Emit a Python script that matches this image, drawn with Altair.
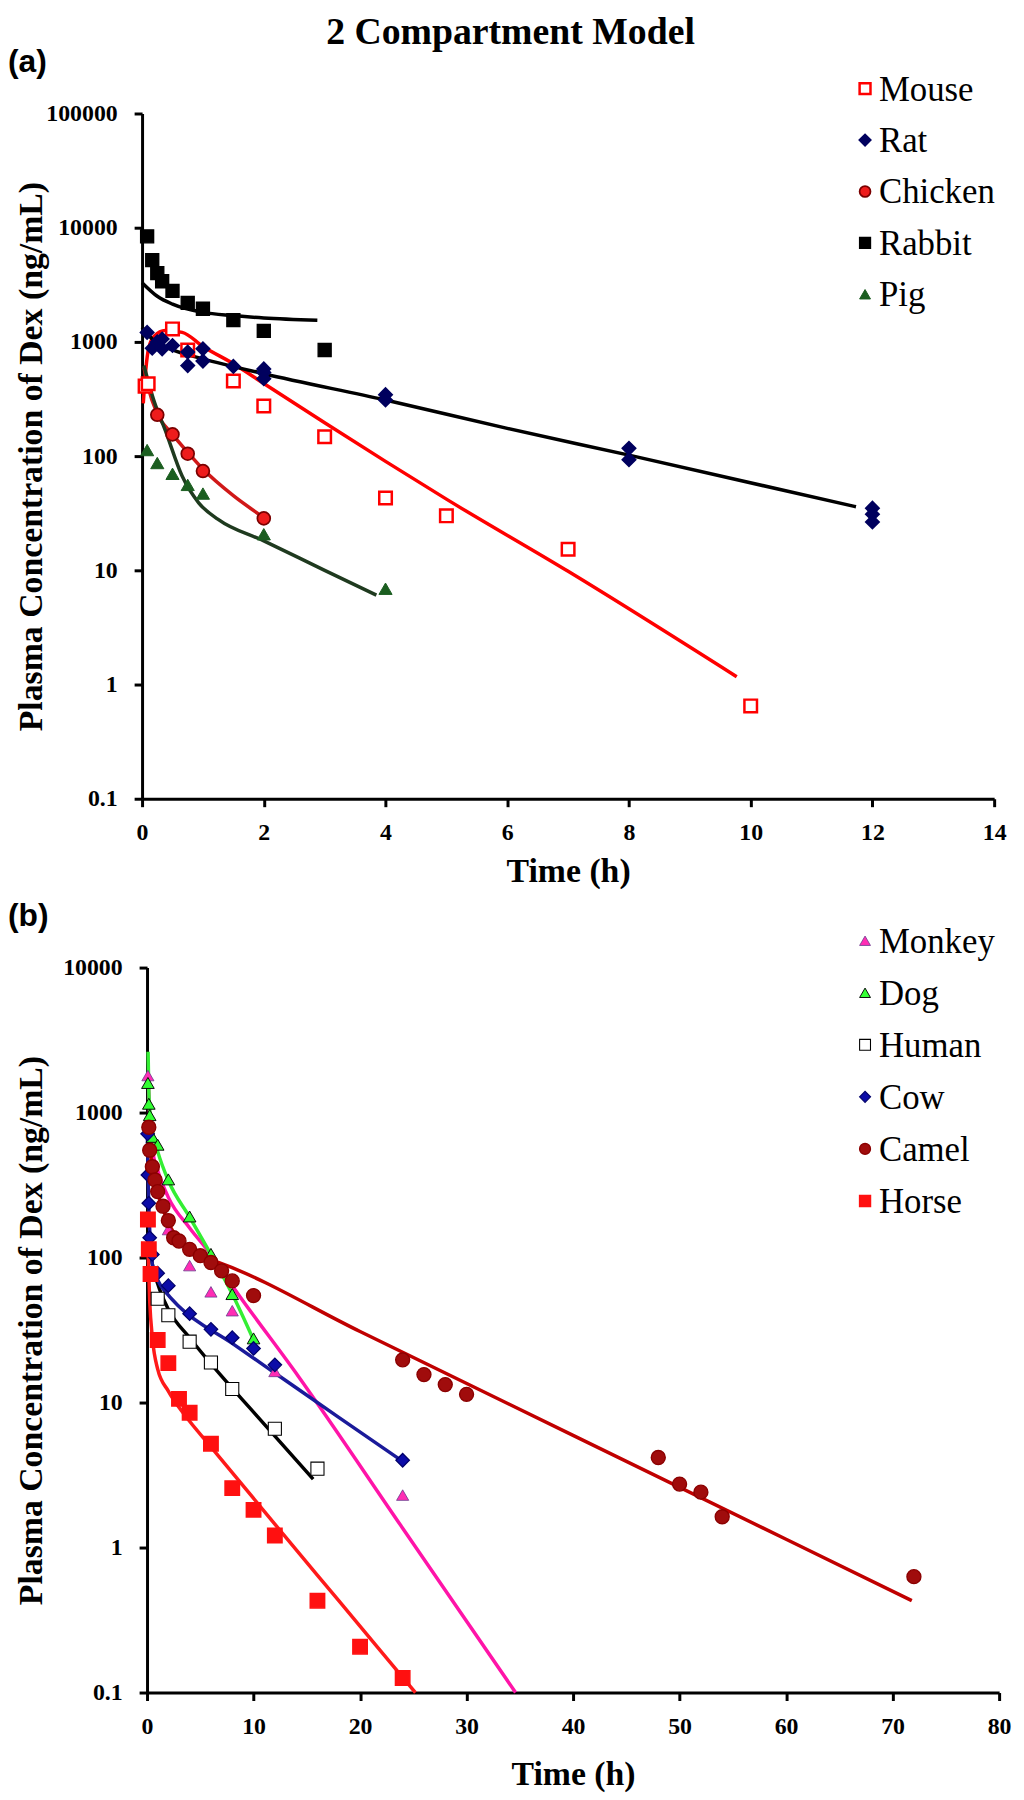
import altair as alt
import pandas as pd

# ---------------- Panel (a): observed data ----------------
MOUSE_T = [0.05, 0.1, 0.5, 0.75, 1.5, 2, 3, 4, 5, 7, 10]
MOUSE_C = [410, 430, 1300, 850, 455, 275, 148, 43, 30, 15.3, 0.65]
RAT_T = [0.083, 0.167, 0.25, 0.33, 0.33, 0.5, 0.75, 0.75, 1, 1, 1.5, 2, 2, 2, 4, 4, 8, 8, 12, 12, 12]
RAT_C = [1210, 880, 1000, 1060, 870, 930, 815, 620, 870, 680, 610, 580, 540, 476, 345, 310, 117, 93, 35, 31, 26.5]
CHICKEN_T = [0.25, 0.5, 0.75, 1, 2]
CHICKEN_C = [230, 155, 105, 74, 28.5]
RABBIT_T = [0.083, 0.167, 0.25, 0.33, 0.5, 0.75, 1, 1.5, 2, 3]
RABBIT_C = [8400, 5200, 4000, 3400, 2800, 2200, 1950, 1550, 1250, 850]
PIG_T = [0.083, 0.25, 0.5, 0.75, 1, 2, 4]
PIG_C = [113, 87, 70, 56, 47, 20.7, 6.9]

# ---------------- Panel (a): fitted curves ----------------
MOUSE_FIT_T = [0.02, 0.06, 0.11, 0.2, 0.38, 0.66, 1, 1.5, 2, 3, 4, 5, 7, 9.77]
MOUSE_FIT_C = [290, 560, 890, 1120, 1256, 1213, 912, 644, 432, 196, 90, 42, 9.8, 1.17]
RAT_FIT_T = [0, 0.1, 0.25, 0.5, 1, 2, 4, 6, 8, 11.73]
RAT_FIT_C = [1343, 1150, 980, 850, 711, 527, 310, 175, 102, 36]
CHICKEN_FIT_T = [0.03, 0.1, 0.25, 0.5, 0.75, 1, 1.5, 2]
CHICKEN_FIT_C = [600, 400, 235, 155, 108, 77, 45, 29]
RABBIT_FIT_T = [0, 0.25, 0.5, 1, 1.5, 2, 2.88]
RABBIT_FIT_C = [3300, 2510, 2140, 1815, 1700, 1620, 1550]
PIG_FIT_T = [0.03, 0.2, 0.38, 0.66, 0.93, 1.25, 2, 3, 3.85]
PIG_FIT_C = [622, 300, 169, 66.5, 39, 27.9, 18.1, 10, 6.07]

# ---------------- Panel (b): observed data ----------------
MONKEY_T = [0.083, 2, 4, 6, 8, 12, 24]
MONKEY_C = [1800, 156, 88, 58, 43, 16.4, 2.3]
DOG_T = [0.083, 0.167, 0.25, 0.5, 1, 2, 4, 6, 8, 10]
DOG_C = [1600, 1150, 960, 680, 600, 346, 192, 106, 56, 27.7]
HUMAN_T = [1, 2, 4, 6, 8, 12, 16]
HUMAN_C = [52, 40, 26.3, 18.9, 12.4, 6.6, 3.5]
COW_T = [0.05, 0.083, 0.167, 0.25, 0.5, 1, 2, 4, 6, 8, 10, 12, 24]
COW_C = [713, 371, 237, 137, 105, 78, 64, 41, 32, 28, 23.6, 18.2, 4.0]
CAMEL_T = [0.167, 0.25, 0.5, 0.75, 1, 1.5, 2, 2.5, 3, 4, 5, 6, 7, 8, 10,
           24, 26, 28, 30, 48, 50, 52, 54, 72]
CAMEL_C = [792, 550, 423, 343, 285, 226, 180, 137, 130, 114, 103, 92.5, 81, 69, 54.7,
           19.7, 15.6, 13.3, 11.4, 4.18, 2.74, 2.41, 1.63, 0.63]
HORSE_T = [0.083, 0.167, 0.33, 1, 2, 3, 4, 6, 8, 10, 12, 16, 20, 24]
HORSE_C = [183, 114, 77, 27, 18.7, 10.6, 8.5, 5.2, 2.57, 1.82, 1.21, 0.43, 0.207, 0.126]

# ---------------- Panel (b): fitted curves ----------------
MONKEY_FIT_T = [0.1, 0.25, 0.5, 1, 2, 4, 6, 8, 14.2, 24, 34.6]
MONKEY_FIT_C = [1880, 900, 560, 400, 260, 160, 105, 64, 15.2, 1.36, 0.1]
DOG_FIT_T = [0.1, 0.15, 0.25, 0.5, 1, 2, 4, 6, 8, 10]
DOG_FIT_C = [2630, 1600, 1050, 750, 540, 340, 190, 105, 56, 27]
HUMAN_FIT_T = [0.05, 0.5, 1, 2, 4, 7, 10, 15.6]
HUMAN_FIT_C = [170, 90, 66, 44, 28, 15.2, 8.6, 2.96]
COW_FIT_T = [0.03, 0.15, 0.5, 1, 2, 3, 8, 12, 18, 24]
COW_FIT_C = [700, 250, 90, 70, 55, 46, 25.6, 16, 7.9, 3.93]
CAMEL_FIT_T = [0.1, 0.25, 0.5, 1, 2, 3, 4, 5, 6.7, 20, 40, 60, 71.8]
CAMEL_FIT_C = [850, 600, 420, 280, 175, 130, 112, 102, 92.5, 30.9, 5.94, 1.14, 0.43]
HORSE_FIT_T = [0.05, 0.25, 0.5, 1, 2, 3.6, 6, 12, 18, 25.2]
HORSE_FIT_C = [140, 50, 28, 17, 12, 8.1, 4.95, 1.45, 0.43, 0.1]

# ---------------- categories, symbols, colours ----------------
TOP_SPECIES = ["Mouse", "Rat", "Chicken", "Rabbit", "Pig"]
TOP_SHAPES = ["square", "diamond", "circle", "square", "triangle-up"]
TOP_FILLS = ["#FFFFFF", "#00005E", "#EE1C1C", "#000000", "#1B5E20"]
TOP_STROKES = ["#FF0000", "#00005E", "#7A0000", "#000000", "#1B5E20"]
TOP_SW = [2.5, 1, 1.5, 1, 1]
TOP_SIZES = [160, 175, 170, 190, 150]
TOP_LINES = ["#FF0000", "#000000", "#D01818", "#000000", "#1F3A1F"]

BOT_SPECIES = ["Monkey", "Dog", "Human", "Cow", "Camel", "Horse"]
BOT_SHAPES = ["triangle-up", "triangle-up", "square", "diamond", "circle", "square"]
BOT_FILLS = ["#FF2DB4", "#33FF33", "#FFFFFF", "#0C0CA8", "#A00C0C", "#FF1010"]
BOT_STROKES = ["#6A3D8F", "#000000", "#000000", "#00006A", "#8B0000", "#FF1010"]
BOT_SW = [0.8, 1.5, 2.5, 1, 1, 1]
BOT_SIZES = [150, 210, 170, 130, 190, 190]
BOT_LINES = ["#FF14A8", "#33EE33", "#000000", "#1A1A9A", "#C00000", "#FF1A1A"]

TOP_X_TICKS = [0, 2, 4, 6, 8, 10, 12, 14]
BOT_X_TICKS = [0, 10, 20, 30, 40, 50, 60, 70, 80]
TOP_Y_TICKS = [0.1, 1, 10, 100, 1000, 10000, 100000]
BOT_Y_TICKS = [0.1, 1, 10, 100, 1000, 10000]

MAIN_TITLE = "2 Compartment Model"
PANEL_LABELS = ["(a)", "(b)"]
X_TITLE = "Time (h)"
Y_TITLE = "Plasma Concentration of Dex (ng/mL)"

SERIF = "Liberation Serif, Times New Roman, serif"


def frame(names, ts, cs, key):
    rows = []
    for n, tt, cc in zip(names, ts, cs):
        for a, b in zip(tt, cc):
            rows.append({key: n, "t": a, "c": b})
    return pd.DataFrame(rows)


top_pts = frame(TOP_SPECIES, [MOUSE_T, RAT_T, CHICKEN_T, RABBIT_T, PIG_T],
                [MOUSE_C, RAT_C, CHICKEN_C, RABBIT_C, PIG_C], "species")
top_fit = frame(TOP_SPECIES, [MOUSE_FIT_T, RAT_FIT_T, CHICKEN_FIT_T, RABBIT_FIT_T, PIG_FIT_T],
                [MOUSE_FIT_C, RAT_FIT_C, CHICKEN_FIT_C, RABBIT_FIT_C, PIG_FIT_C], "curve")
bot_pts = frame(BOT_SPECIES, [MONKEY_T, DOG_T, HUMAN_T, COW_T, CAMEL_T, HORSE_T],
                [MONKEY_C, DOG_C, HUMAN_C, COW_C, CAMEL_C, HORSE_C], "species")
bot_fit = frame(BOT_SPECIES, [MONKEY_FIT_T, DOG_FIT_T, HUMAN_FIT_T, COW_FIT_T, CAMEL_FIT_T, HORSE_FIT_T],
                [MONKEY_FIT_C, DOG_FIT_C, HUMAN_FIT_C, COW_FIT_C, CAMEL_FIT_C, HORSE_FIT_C], "curve")

LABEL_EXPR = "datum.value < 1 ? '0.1' : format(datum.value, 'd')"


def panel(pts, fit, species, shapes, fills, strokes, sws, sizes, lines, xmax, xticks, ymax, yticks,
          width, height, title_x, x_title_pad, leg_x, leg_range, label_text, label_x, with_title):
    x_enc = alt.X("t:Q", scale=alt.Scale(domain=[0, xmax], nice=False),
                  axis=alt.Axis(values=xticks, format="d", title=X_TITLE,
                                titlePadding=x_title_pad, labelFlush=False))
    y_scale = alt.Scale(type="log", domain=[0.1, ymax], nice=False)
    y_axis = alt.Y("c:Q", scale=y_scale,
                   axis=alt.Axis(values=yticks, labelExpr=LABEL_EXPR, title=Y_TITLE, titleX=title_x))
    y_noaxis = alt.Y("c:Q", scale=y_scale, axis=None)

    shape_enc = alt.Shape("species:N", scale=alt.Scale(domain=species, range=shapes), legend=None)
    fill_enc = alt.Fill("species:N", scale=alt.Scale(domain=species, range=fills), legend=None)
    stroke_enc = alt.Stroke("species:N", scale=alt.Scale(domain=species, range=strokes), legend=None)
    sw_enc = alt.StrokeWidth("species:N", scale=alt.Scale(domain=species, range=sws), legend=None)

    line_layer = alt.Chart(fit).mark_line(strokeWidth=3.5, interpolate="monotone").encode(
        x=x_enc, y=y_noaxis,
        color=alt.Color("curve:N", scale=alt.Scale(domain=species, range=lines), legend=None),
    )
    point_layer = alt.Chart(pts).mark_point(filled=True, opacity=1).encode(
        x=x_enc, y=y_axis, shape=shape_enc, fill=fill_enc, stroke=stroke_enc, strokeWidth=sw_enc,
        size=alt.Size("species:N", scale=alt.Scale(domain=species, range=sizes), legend=None),
    )

    # legend (symbols + names), rows placed by a point scale
    leg_df = pd.DataFrame({"species": species})
    leg_y = alt.Y("species:N", scale=alt.Scale(type="point", domain=species, range=leg_range, padding=0),
                  axis=None)
    leg_sym = alt.Chart(leg_df).mark_point(filled=True, opacity=1, size=120).encode(
        x=alt.value(leg_x), y=leg_y, shape=shape_enc, fill=fill_enc, stroke=stroke_enc,
        strokeWidth=sw_enc)
    leg_txt = alt.Chart(leg_df).mark_text(
        font=SERIF, fontWeight="normal", fontSize=35, align="left", baseline="alphabetic", dy=12,
        color="black").encode(x=alt.value(leg_x + 14), y=leg_y, text="species:N")

    lab = alt.Chart(pd.DataFrame({"label": [label_text]})).mark_text(
        font="Liberation Sans", fontWeight="bold", fontSize=32, align="left", baseline="middle",
        color="black").encode(x=alt.value(label_x), y=alt.value(-52), text="label:N")
    layers = [line_layer, point_layer, leg_sym, leg_txt, lab]
    if with_title:
        ttl = alt.Chart(pd.DataFrame({"label": [MAIN_TITLE]})).mark_text(
            font=SERIF, fontWeight="bold", fontSize=38, align="center",
            baseline="top", color="black").encode(
            x=alt.value(371), y=alt.value(-100), text="label:N")
        layers.append(ttl)
    return alt.layer(*layers).resolve_scale(y="independent").properties(width=width, height=height)


top = panel(top_pts, top_fit, TOP_SPECIES, TOP_SHAPES, TOP_FILLS, TOP_STROKES, TOP_SW, TOP_SIZES,
            TOP_LINES, 14, TOP_X_TICKS, 100000, TOP_Y_TICKS, 858, 690, -94, 10, 728, [-25, 182],
            PANEL_LABELS[0], -135, True)
bottom = panel(bot_pts, bot_fit, BOT_SPECIES, BOT_SHAPES, BOT_FILLS, BOT_STROKES, BOT_SW, BOT_SIZES,
               BOT_LINES, 80, BOT_X_TICKS, 10000, BOT_Y_TICKS, 858, 730, -99, 20, 723, [-27, 235],
               PANEL_LABELS[1], -140, False)

spacer = alt.Chart(pd.DataFrame({"s": [0]})).mark_point(opacity=0).encode(
    x=alt.value(0), y=alt.value(0)).properties(width=5, height=730)
bottom_row = alt.hconcat(spacer, bottom, spacing=0, bounds="flush")

chart = alt.vconcat(top, bottom_row, spacing=170, bounds="flush").resolve_scale(
    x="independent", y="independent", color="independent",
    fill="independent", stroke="independent", shape="independent",
    strokeWidth="independent", size="independent"
).properties(
    padding={"left": 0, "top": 0, "right": 5, "bottom": 5}
).configure_view(stroke=None).configure_axis(
    domainColor="black", domainWidth=3, tickColor="black", tickWidth=3, tickSize=8,
    labelFont=SERIF, labelFontWeight="bold", labelFontSize=24, labelColor="black",
    titleFont=SERIF, titleFontWeight="bold", titleFontSize=34, titleColor="black",
    grid=False
).configure_axisX(labelPadding=14).configure_axisY(labelPadding=17)

chart.save("out.html", embed_options={"renderer": "svg", "actions": False})
